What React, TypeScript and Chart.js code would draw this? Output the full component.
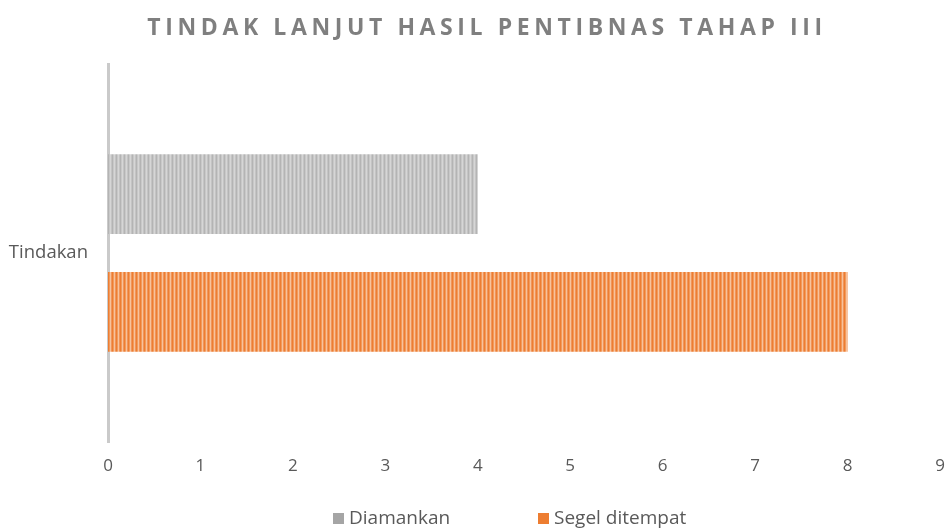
import React, { useEffect, useRef } from "react";
import { Chart, registerables } from "chart.js";

Chart.register(...registerables);

const categories = ["Tindakan"];
const seriesNames = ["Diamankan", "Segel ditempat"];
const diamankanValues = [4];
const segelValues = [8];
const xTicks = [0, 1, 2, 3, 4, 5, 6, 7, 8, 9];
const titleText = "TINDAK LANJUT HASIL PENTIBNAS TAHAP III";

function makeStripe(colors: string[]): CanvasPattern | string {
  const c = document.createElement("canvas");
  c.width = colors.length;
  c.height = 4;
  const ctx = c.getContext("2d");
  if (!ctx) return colors[0];
  colors.forEach((col, i) => {
    ctx.fillStyle = col;
    ctx.fillRect(i, 0, 1, 4);
  });
  return ctx.createPattern(c, "repeat") || colors[0];
}

const FONT = "'Open Sans', 'Noto Sans', sans-serif";

export default function App() {
  const ref = useRef<HTMLCanvasElement>(null);
  useEffect(() => {
    if (!ref.current) return;
    const grayPat = makeStripe(["#b4b4b4", "#c8c8c8", "#d6d6d6", "#c4c4c4"]);
    const orangePat = makeStripe(["#ed7d31", "#f29a5c", "#f7c29c", "#f0955a"]);
    const legendColors = ["#a5a5a5", "#ed7d31"];

    const titlePlugin = {
      id: "customTitle",
      afterDraw(chart: any) {
        const ctx = chart.ctx;
        ctx.save();
        ctx.font = `bold 23px ${FONT}`;
        (ctx as any).letterSpacing = "4.6px";
        ctx.fillStyle = "#7f7f7f";
        ctx.textAlign = "center";
        ctx.textBaseline = "middle";
        ctx.fillText(titleText, 487, 28);
        ctx.restore();
      },
    };

    const legendPlugin = {
      id: "customLegend",
      afterDraw(chart: any) {
        const ctx = chart.ctx;
        ctx.save();
        ctx.font = `19px ${FONT}`;
        ctx.textBaseline = "middle";
        const y = 519;
        const xs = [333, 538];
        chart.data.datasets.forEach((ds: any, i: number) => {
          ctx.fillStyle = legendColors[i];
          ctx.fillRect(xs[i], y - 6, 11, 11);
          ctx.fillStyle = "#595959";
          ctx.fillText(ds.label, xs[i] + 16, y);
        });
        ctx.restore();
      },
    };

    const chart = new Chart(ref.current, {
      type: "bar",
      data: {
        labels: categories,
        datasets: [
          { label: seriesNames[0], data: diamankanValues, backgroundColor: grayPat as any, borderWidth: 0 },
          { label: seriesNames[1], data: segelValues, backgroundColor: orangePat as any, borderWidth: 0 },
        ],
      },
      options: {
        indexAxis: "y",
        animation: false,
        responsive: false,
        maintainAspectRatio: false,
        layout: { padding: { top: 64, bottom: 50, left: 0, right: 9 } },
        datasets: {
          bar: { categoryPercentage: 0.623, barPercentage: 0.678 },
        },
        scales: {
          x: {
            min: 0,
            max: 9,
            afterBuildTicks: (s: any) => {
              s.ticks = xTicks.map((v) => ({ value: v }));
            },
            afterFit: (s: any) => {
              s.height = 39;
              s.paddingRight = 0;
              s.paddingLeft = 0;
            },
            grid: { display: false, drawTicks: false },
            border: { display: false },
            ticks: { color: "#595959", font: { size: 17, family: FONT }, padding: 14 },
          },
          y: {
            afterFit: (s: any) => {
              s.width = 108;
            },
            grid: { display: false, drawTicks: false },
            border: { display: true, color: "#cacaca", width: 3 },
            ticks: { color: "#595959", font: { size: 18.5, family: FONT }, padding: 20 },
          },
        },
        plugins: {
          legend: { display: false },
          title: { display: false },
          tooltip: { enabled: false },
        },
      },
      plugins: [titlePlugin, legendPlugin],
    });
    return () => chart.destroy();
  }, []);
  return (
    <div style={{ position: "fixed", left: 0, top: 0, width: 949, height: 531, background: "#fff" }}>
      <canvas ref={ref} width={949} height={531} style={{ width: 949, height: 531 }} />
    </div>
  );
}
